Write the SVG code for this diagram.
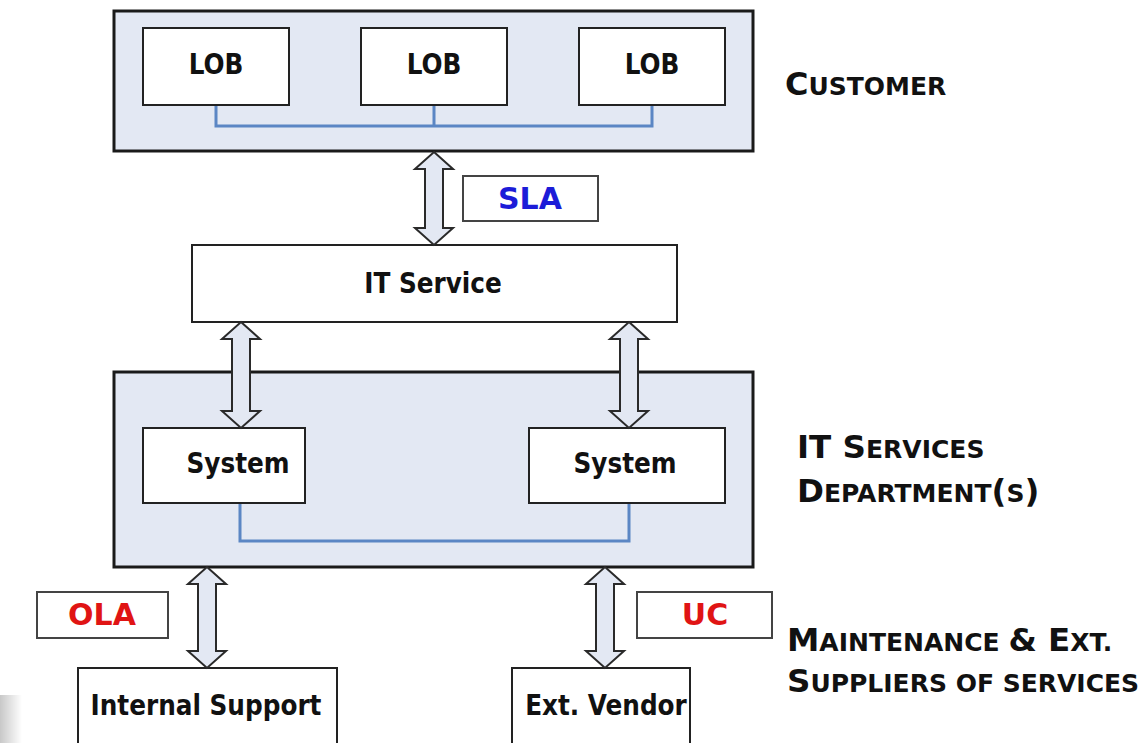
<svg xmlns="http://www.w3.org/2000/svg" width="1142" height="743" viewBox="0 0 1142 743">
<defs>
<linearGradient id="edge" x1="0" y1="0" x2="1" y2="0">
<stop offset="0" stop-color="#c8c8c8"/><stop offset="1" stop-color="#ffffff"/>
</linearGradient>
</defs>
<style>
.grp{fill:#e3e8f3;stroke:#1a1a1a;stroke-width:3}
.box{fill:#ffffff;stroke:#222;stroke-width:2}
.lbl{fill:#ffffff;stroke:#444;stroke-width:2}
.t{font-family:'DejaVu Sans Condensed','DejaVu Sans',sans-serif;font-weight:bold;fill:#111;text-anchor:middle;font-size:27.5px}
.c{font-family:'DejaVu Sans',Verdana,sans-serif;font-weight:bold;text-anchor:middle;font-size:30px}
.side{font-family:'DejaVu Sans',Verdana,sans-serif;font-weight:bold;fill:#111}
.link{fill:none;stroke:#5b86c4;stroke-width:3}
.arr{fill:#e3e8f3;stroke:#2a2a2a;stroke-width:2;stroke-linejoin:miter}
</style>
<rect width="1142" height="743" fill="#ffffff"/>
<rect x="0" y="695" width="22" height="48" fill="url(#edge)"/>

<g id="customer">
<rect class="grp" x="114" y="11" width="639" height="140"/>
<path class="link" d="M216 105V126H652V105M434 105V126"/>
</g>
<g id="lob1"><rect class="box" x="143" y="28" width="146" height="77"/><text class="t" x="216" y="74">LOB</text></g>
<g id="lob2"><rect class="box" x="361" y="28" width="146" height="77"/><text class="t" x="434" y="74">LOB</text></g>
<g id="lob3"><rect class="box" x="579" y="28" width="146" height="77"/><text class="t" x="652" y="74">LOB</text></g>

<g id="itservice"><rect class="box" x="192" y="245" width="485" height="77"/><text class="t" x="433" y="293">IT Service</text></g>

<g id="dept">
<rect class="grp" x="114" y="372" width="639" height="195"/>
<path class="link" d="M240 503V541H629V503"/>
</g>
<g id="system1"><rect class="box" x="143" y="428" width="162" height="75"/><text class="t" x="238" y="473">System</text></g>
<g id="system2"><rect class="box" x="529" y="428" width="196" height="75"/><text class="t" x="625" y="473">System</text></g>

<g id="internal"><rect class="box" x="78" y="668" width="259" height="90"/><text class="t" x="206" y="715">Internal Support</text></g>
<g id="vendor"><rect class="box" x="512" y="668" width="178" height="90"/><text class="t" x="606" y="715">Ext. Vendor</text></g>

<g id="sla"><rect class="lbl" x="463" y="176" width="135" height="45"/><text class="c" x="530" y="209" style="fill:#1c1cd8">SLA</text></g>
<g id="ola"><rect class="lbl" x="37" y="592" width="131" height="46"/><text class="c" x="102" y="625" style="fill:#e01414">OLA</text></g>
<g id="uc"><rect class="lbl" x="637" y="592" width="135" height="46"/><text class="c" x="705" y="625" style="fill:#e01414">UC</text></g>

<g id="connectors">
<polygon class="arr" points="434,152 453,169 443,169 443,228 453,228 434,245 415,228 425,228 425,169 415,169"/>
<polygon class="arr" points="241,322 260,339 250,339 250,411 260,411 241,428 222,411 232,411 232,339 222,339"/>
<polygon class="arr" points="629,322 648,339 638,339 638,411 648,411 629,428 610,411 620,411 620,339 610,339"/>
<polygon class="arr" points="207,567 226,584 216,584 216,651 226,651 207,668 188,651 198,651 198,584 188,584"/>
<polygon class="arr" points="605,567 624,584 614,584 614,651 624,651 605,668 586,651 596,651 596,584 586,584"/>
</g>

<g id="labels">
<text class="side" x="785" y="95"><tspan font-size="32">C</tspan><tspan font-size="25">USTOMER</tspan></text>
<text class="side" x="797" y="458"><tspan font-size="32.5">IT S</tspan><tspan font-size="25">ERVICES</tspan></text>
<text class="side" x="797" y="502"><tspan font-size="32.5">D</tspan><tspan font-size="25">EPARTMENT</tspan><tspan font-size="32.5">(</tspan><tspan font-size="25">S</tspan><tspan font-size="32.5">)</tspan></text>
<text class="side" x="787" y="651"><tspan font-size="32.5">M</tspan><tspan font-size="25">AINTENANCE </tspan><tspan font-size="32.5">&amp; E</tspan><tspan font-size="25">XT.</tspan></text>
<text class="side" x="787" y="692"><tspan font-size="32.5">S</tspan><tspan font-size="25">UPPLIERS OF SERVICES</tspan></text>
</g>
</svg>
